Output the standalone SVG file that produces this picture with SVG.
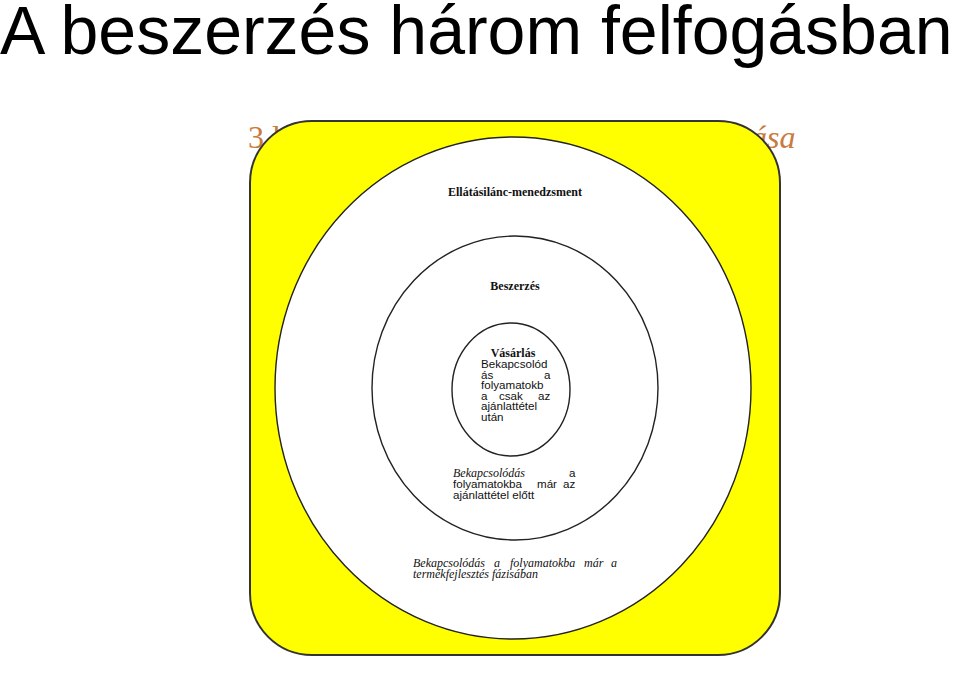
<svg xmlns="http://www.w3.org/2000/svg" width="960" height="674" viewBox="0 0 960 674">
<style>
.ring{fill:#fff;stroke:#222;stroke-width:1.4}
.hb{font-family:"Liberation Serif",serif;font-weight:bold;font-size:12px;fill:#111;text-anchor:middle}
.it{font-family:"Liberation Serif",serif;font-style:italic;font-size:12px;fill:#111}
.sn{font-family:"Liberation Sans",Arial,sans-serif;font-size:11.6px;fill:#111}
.or{font-family:"Liberation Serif",serif;font-size:32px;fill:#C97A3D}
</style>
<rect width="960" height="674" fill="#fff"/>
<text x="0" y="54" font-family="Liberation Sans, Arial, sans-serif" font-size="68" fill="#000">A beszerzés három felfogásban</text>
<text class="or" x="248" y="148">3 l</text>
<text class="or" x="751" y="148" font-style="italic">ása</text>
<g id="frame">
<rect x="250" y="121" width="530" height="534" rx="62" ry="62" fill="#ffff00" stroke="#333" stroke-width="2"/>
</g>
<g id="supply-chain">
<ellipse class="ring" cx="513" cy="388" rx="238" ry="251"/>
<text class="hb" x="515" y="196">Ellátásilánc-menedzsment</text>
<text class="it"><tspan x="413" y="567">Bekapcsolódás</tspan><tspan x="494" y="567">a</tspan><tspan x="510" y="567">folyamatokba</tspan><tspan x="584" y="567">már</tspan><tspan x="611" y="567">a</tspan><tspan x="413" y="578">termékfejlesztés fázisában</tspan></text>
</g>
<g id="procurement">
<ellipse class="ring" cx="515" cy="388" rx="143" ry="152"/>
<text class="hb" x="515" y="290">Beszerzés</text>
<text class="it" x="453" y="477">Bekapcsolódás</text>
<text class="sn"><tspan x="569" y="477">a</tspan><tspan x="453" y="488">folyamatokba</tspan><tspan x="537" y="488">már</tspan><tspan x="563" y="488">az</tspan><tspan x="453" y="499">ajánlattétel előtt</tspan></text>
</g>
<g id="purchasing">
<ellipse class="ring" cx="511" cy="389.5" rx="59" ry="66.5"/>
<text class="hb" x="513" y="357">Vásárlás</text>
<text class="sn"><tspan x="481" y="368">Bekapcsolód</tspan><tspan x="481" y="378.5">ás</tspan><tspan x="544" y="378.5">a</tspan><tspan x="481" y="389">folyamatokb</tspan><tspan x="481" y="399.5">a</tspan><tspan x="499" y="399.5">csak</tspan><tspan x="538" y="399.5">az</tspan><tspan x="481" y="410">ajánlattétel</tspan><tspan x="481" y="420.5">után</tspan></text>
</g>
<g id="connectors"/>
</svg>
